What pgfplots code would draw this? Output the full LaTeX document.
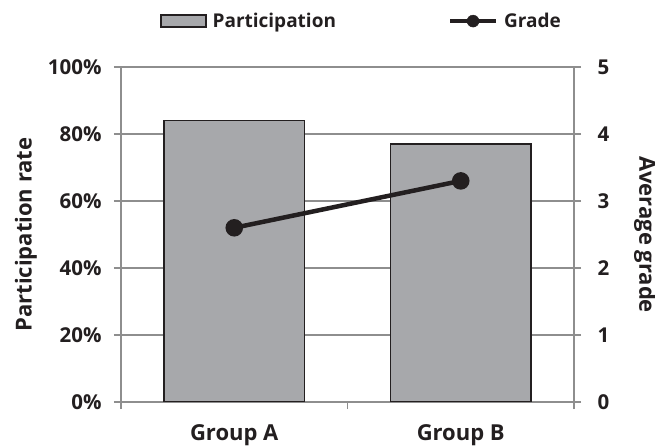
\documentclass[border=0pt]{standalone}
\usepackage{fontspec}
\setmainfont{Open Sans}
\usepackage{pgfplots}
\pgfplotsset{compat=1.18}
\definecolor{ink}{HTML}{231F20}
\definecolor{barfill}{HTML}{A7A8AB}
\definecolor{gridgray}{HTML}{8E8E8E}

\newcommand{\legendfont}{\fontsize{19}{22}\selectfont\bfseries}
\newcommand{\tickfont}{\fontsize{20.5}{24}\selectfont\bfseries}
\newcommand{\labelfont}{\fontsize{22}{26}\selectfont\bfseries}

\pgfplotsset{
  common/.style={
    at={(0pt,0pt)}, anchor=south west,
    scale only axis, width=453pt, height=335pt,
    xmin=-0.5, xmax=1.5,
    tick align=outside, major tick length=7pt, minor tick length=7pt,
    axis line style={gridgray, line width=1.2pt},
    tick label style={font=\tickfont, text=ink},
    /pgf/number format/assume math mode=true,
  }
}

\begin{document}
\begin{tikzpicture}
\useasboundingbox (-121pt,-44pt) rectangle (534pt,402pt);

% participation bars, left axis
\begin{axis}[
  common,
  ymin=0, ymax=100,
  ytick={0,20,...,100}, ytick pos=left,
  yticklabel={\pgfmathprintnumber{\tick}\%},
  yticklabel style={xshift=-9pt},
  ytick style={gridgray, line width=1.2pt},
  ymajorgrids, grid style={gridgray, line width=1.2pt},
  xtick={0,1}, xticklabels={Group A, Group B}, xtick pos=bottom,
  xticklabel style={yshift=-12pt, font=\labelfont},
  minor xtick={-0.5,0.5,1.5},
  xtick style={gridgray, line width=1.2pt},
  major x tick style={draw=none},
  ylabel={Participation rate},
  ylabel style={at={(axis description cs:-0.21,0.5)}, anchor=center,
    font=\labelfont, text=ink},
]
\addplot[ybar, bar width=0.62, fill=barfill, draw=ink, line width=1.3pt]
  coordinates {(0,84) (1,77)};
\end{axis}

% average grade line, right axis
\begin{axis}[
  common,
  ymin=0, ymax=5,
  axis y line*=right, axis x line=none,
  ytick={0,1,...,5},
  yticklabel style={xshift=13pt},
  ytick style={gridgray, line width=1.2pt},
  ylabel={Average grade},
  ylabel style={at={(axis description cs:1.157,0.5)}, rotate=-180, anchor=center,
    font=\labelfont, text=ink},
  legend columns=2,
  legend style={draw=none, fill=none, font=\legendfont, text=ink,
    at={(axis description cs:0.531,1.137)}, anchor=center,
    /tikz/every odd column/.append style={column sep=4pt},
    /tikz/every even column/.append style={column sep=110pt}},
]
\addlegendimage{legend image code/.code={
  \draw[fill=barfill, draw=ink, line width=1.3pt] (0pt,-6pt) rectangle (45pt,6pt);}}
\addlegendentry{Participation}
\addlegendimage{legend image code/.code={
  \draw[ink, line width=4pt] (0pt,0pt) -- (46pt,0pt);
  \fill[ink] (23pt,0pt) circle (6pt);}}
\addlegendentry{Grade}
\addplot[ink, line width=4.5pt, mark=*, mark size=6.5pt, forget plot]
  coordinates {(0,2.6) (1,3.3)};
\end{axis}
\end{tikzpicture}
\end{document}
